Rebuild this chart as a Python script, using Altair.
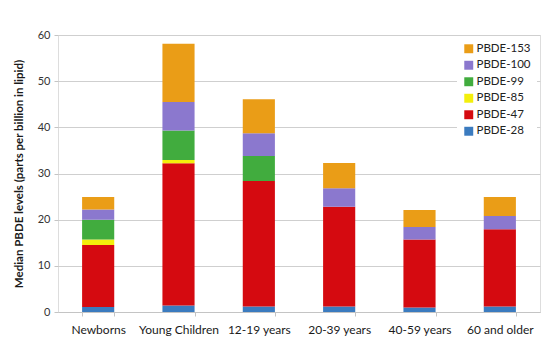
import altair as alt
import pandas as pd

groups = ["Newborns", "Young Children", "12-19 years", "20-39 years", "40-59 years", "60 and older"]
congeners = ["PBDE-153", "PBDE-100", "PBDE-99", "PBDE-85", "PBDE-47", "PBDE-28"]
colors = ["#EA9D17", "#8B78CE", "#41AC3E", "#F3EF0C", "#D50A10", "#3B7BBF"]

pbde28 = [1.1, 1.4, 1.2, 1.2, 1.0, 1.2]
pbde47 = [13.4, 30.8, 27.2, 21.6, 14.7, 16.7]
pbde85 = [1.2, 0.7, 0.0, 0.0, 0.0, 0.0]
pbde99 = [4.3, 6.4, 5.4, 0.0, 0.0, 0.0]
pbde100 = [2.2, 6.2, 4.9, 4.0, 2.7, 2.9]
pbde153 = [2.7, 12.6, 7.4, 5.5, 3.7, 4.1]

series = {
    "PBDE-28": pbde28,
    "PBDE-47": pbde47,
    "PBDE-85": pbde85,
    "PBDE-99": pbde99,
    "PBDE-100": pbde100,
    "PBDE-153": pbde153,
}
stack_rank = {"PBDE-28": 0, "PBDE-47": 1, "PBDE-85": 2, "PBDE-99": 3, "PBDE-100": 4, "PBDE-153": 5}

rows = []
for name, vals in series.items():
    for g, v in zip(groups, vals):
        rows.append({"group": g, "congener": name, "value": v, "rank": stack_rank[name]})
df = pd.DataFrame(rows)

FONT = "Lato"

chart = alt.Chart(df).mark_bar().encode(
    x=alt.X("group:N", sort=groups, title=None,
            scale=alt.Scale(paddingInner=0.6, paddingOuter=0.3),
            axis=alt.Axis(labelAngle=0, tickBand="extent", grid=False, domain=True,
                          domainColor="#c4c4c4", tickColor="#c4c4c4", tickSize=4,
                          labelFontSize=12, labelColor="#1a1a1a", labelPadding=8, labelFont=FONT)),
    y=alt.Y("value:Q", title="Median PBDE levels (parts per billion in lipid)",
            scale=alt.Scale(domain=[0, 60], nice=False),
            axis=alt.Axis(values=[0, 10, 20, 30, 40, 50, 60], grid=True, gridColor="#cfcfcf",
                          domain=False, tickColor="#c4c4c4", tickSize=4,
                          labelFontSize=11, labelColor="#333333", labelFont=FONT, labelPadding=4,
                          titleFontSize=11.5, titleFont=FONT, titleFontWeight="bold", titleColor="#1a1a1a",
                          titlePadding=13)),
    color=alt.Color("congener:N", scale=alt.Scale(domain=congeners, range=colors),
                    legend=alt.Legend(title=None, orient="none", legendX=399, legendY=2,
                                      symbolType="square", symbolSize=80, symbolStrokeWidth=0,
                                      labelFontSize=11.5, labelFont=FONT, labelColor="#222222",
                                      fillColor="white", padding=6, rowPadding=3.5,
                                      labelOffset=2)),
    order=alt.Order("rank:Q", sort="ascending"),
).properties(
    width=482,
    height=277,
    autosize=alt.AutoSizeParams(type="none"),
    padding={"left": 58, "top": 35, "right": 10, "bottom": 41},
).configure_view(
    fill="#e6e6e6", stroke="#c8c8c8", strokeWidth=1
).configure(background="white")

chart.save("out.html", embed_options={"renderer": "svg", "actions": False})
